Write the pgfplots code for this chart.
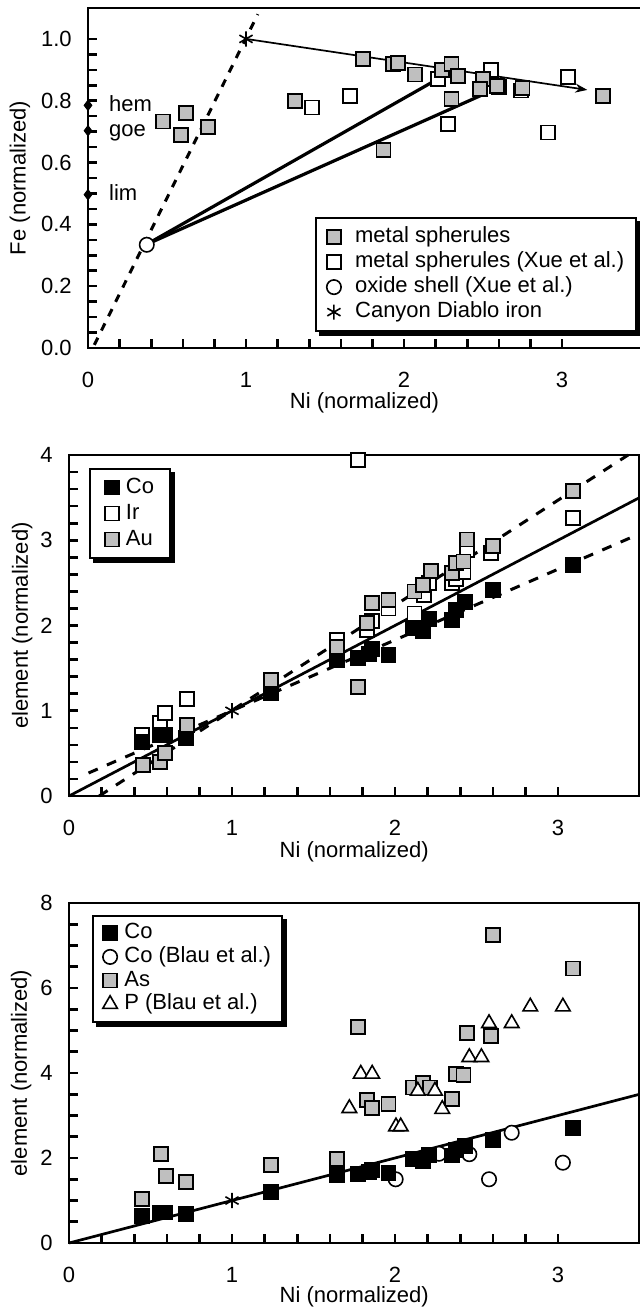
\documentclass[border=0pt]{standalone}
\usepackage{fontspec}
\setmainfont{Liberation Sans}
\usepackage{pgfplots}
\pgfplotsset{compat=1.18}
\usetikzlibrary{arrows.meta}

\newcommand{\lblfont}{\fontsize{11}{13}\selectfont}
% solid shadow along the right and bottom edges of a legend box
\newcommand{\legshadow}[1]{%
  \fill[black] ([yshift=-2pt]#1.north east) rectangle ([xshift=2pt,yshift=-2pt]#1.south east);
  \fill[black] ([xshift=2pt]#1.south west) rectangle ([xshift=2pt,yshift=-2pt]#1.south east);}

\pgfplotsset{
  panel/.style={
    scale only axis, anchor=south west, clip=false,
    axis line style={line width=1.4pt},
    major tick style={draw=black, line width=1.3pt},
    minor tick style={draw=black, line width=1.3pt},
    major tick length=4.3pt, minor tick length=4.3pt,
    tick pos=left, tick align=inside,
    /pgf/number format/assume math mode=true,
    tick label style={font=\lblfont},
    label style={font=\lblfont},
    xticklabel shift=8.3pt, yticklabel shift=4.3pt,
    xmin=0, xmax=3.5, xtick={0,1,2,3}, minor x tick num=4,
    xlabel={Ni (normalized)},
    legend cell align=left,
    legend style={draw=black, line width=1pt, fill=white, font=\lblfont,
      nodes={inner sep=0.5pt, text height=8.2pt, text depth=2.6pt}},
    legend image code/.code={\draw[##1] plot coordinates {(0pt,0pt)};},
  },
  graysq/.style={only marks, mark=square*, mark size=3.5pt,
    mark options={line width=0.9pt, draw=black, fill=black!25}},
  whitesq/.style={only marks, mark=square*, mark size=3.5pt,
    mark options={line width=0.9pt, draw=black, fill=white}},
  blacksq/.style={only marks, mark=square*, mark size=3.5pt,
    mark options={line width=0.9pt, draw=black, fill=black}},
  opencirc/.style={only marks, mark=*, mark size=3.6pt,
    mark options={line width=0.8pt, draw=black, fill=white}},
  opentri/.style={only marks, mark=triangle*, mark size=4.2pt,
    mark options={line width=0.8pt, draw=black, fill=white}},
  cdiron/.style={only marks, mark=asterisk, mark size=3.8pt,
    mark options={line width=0.8pt, draw=black}},
}

% Co concentrations, shared by the lower two panels
\pgfplotstableread{
x y
0.446 0.637
0.558 0.716
0.589 0.716
0.718 0.677
1.237 1.205
1.646 1.595
1.775 1.620
1.840 1.670
1.860 1.720
1.960 1.650
2.110 1.970
2.170 1.930
2.210 2.080
2.350 2.060
2.375 2.180
2.430 2.280
2.600 2.420
3.090 2.710
}\cotable

\begin{document}
\lblfont
\begin{tikzpicture}
\useasboundingbox (0pt,0pt) rectangle (319.5pt,-655pt);

% ---------------- Fe vs Ni ----------------
\begin{axis}[panel, at={(44pt,-174pt)}, width=276.5pt, height=170pt,
  ymin=0, ymax=1.1, ytick={0,0.2,...,1.0}, minor y tick num=3,
  yticklabel style={/pgf/number format/.cd, fixed, fixed zerofill, precision=1},
  ylabel={Fe (normalized)},
  every axis y label/.style={at={(axis description cs:-0.123,0.5)}, rotate=90, anchor=center},
  every axis x label/.style={at={(axis description cs:0.5,-0.162)}, anchor=center},
  legend style={name=legA, at={(0.41,0.385)}, anchor=north west,
    row sep=0.7pt, column sep=6.5pt, inner xsep=5.5pt, inner ysep=3.6pt},
]
\addlegendimage{graysq}\addlegendentry{metal spherules}
\addlegendimage{whitesq}\addlegendentry{metal spherules (Xue et al.)}
\addlegendimage{opencirc}\addlegendentry{oxide shell (Xue et al.)}
\addlegendimage{cdiron}\addlegendentry{Canyon Diablo iron}

% mineral reference values on the Fe axis
\addplot[only marks, mark=diamond*, mark size=2.6pt, black, forget plot]
  coordinates {(0,0.785) (0,0.703) (0,0.496)};
\node[anchor=mid west] at (axis cs:0.085,0.785) {hem};
\node[anchor=mid west] at (axis cs:0.085,0.703) {goe};
\node[anchor=mid west] at (axis cs:0.085,0.496) {lim};

\addplot[dash pattern=on 4pt off 4pt, line width=1.5pt, forget plot]
  coordinates {(0.04,0.01) (1.075,1.08)};

\addplot[whitesq, forget plot] coordinates {
 (1.42,0.778) (1.66,0.815) (2.215,0.869) (2.55,0.900) (2.60,0.844)
 (2.74,0.833) (2.28,0.725) (2.91,0.697) (3.04,0.876)};
\addplot[graysq, forget plot] coordinates {
 (0.474,0.733) (0.621,0.759) (0.588,0.689) (0.759,0.716) (1.31,0.800)
 (1.74,0.935) (1.93,0.919) (1.96,0.921) (2.07,0.885) (2.24,0.900)
 (2.30,0.918) (2.34,0.879) (2.30,0.806) (1.87,0.641) (2.50,0.871)
 (2.48,0.837) (2.59,0.848) (2.75,0.840) (3.26,0.816)};

\addplot[line width=1.6pt, forget plot] coordinates {(0.37,0.335) (2.22,0.872)};
\addplot[line width=1.6pt, forget plot] coordinates {(0.37,0.335) (2.50,0.820)};
\addplot[line width=0.85pt, -{Stealth[length=6pt,width=4.5pt,inset=2pt]}, forget plot]
  coordinates {(1,1) (3.16,0.835)};

\addplot[opencirc, forget plot] coordinates {(0.372,0.334)};
\addplot[cdiron, forget plot] coordinates {(1,1)};
\end{axis}
\legshadow{legA}

% ---------------- Co, Ir, Au vs Ni ----------------
\begin{axis}[panel, at={(34.5pt,-398pt)}, width=285.25pt, height=170.5pt,
  ymin=0, ymax=4, ytick={0,1,2,3,4}, minor y tick num=4,
  ylabel={element (normalized)},
  every axis y label/.style={at={(axis description cs:-0.082,0.5)}, rotate=90, anchor=center},
  every axis x label/.style={at={(axis description cs:0.5,-0.164)}, anchor=center},
  legend style={name=legB, at={(0.035,0.962)}, anchor=north west,
    row sep=1.2pt, column sep=3pt, inner xsep=7.5pt, inner ysep=3.4pt},
]
\addlegendimage{blacksq}\addlegendentry{Co}
\addlegendimage{whitesq}\addlegendentry{Ir}
\addlegendimage{graysq}\addlegendentry{Au}

\addplot[whitesq, forget plot] coordinates {
 (0.446,0.72) (0.558,0.853) (0.589,0.97) (0.722,1.134) (1.646,1.83)
 (1.775,3.94) (1.83,1.95) (1.86,2.05) (1.96,2.20) (2.12,2.14)
 (2.18,2.36) (2.21,2.50) (2.35,2.50) (2.375,2.55) (2.42,2.63)
 (2.44,2.89) (2.59,2.85) (3.09,3.26)};
\addplot[blacksq, forget plot] table {\cotable};
\addplot[graysq, forget plot] coordinates {
 (0.452,0.364) (0.558,0.402) (0.589,0.50) (0.722,0.833) (1.237,1.36)
 (1.646,1.75) (1.775,1.28) (1.83,2.03) (1.86,2.26) (1.96,2.30)
 (2.12,2.40) (2.17,2.475) (2.22,2.64) (2.35,2.62) (2.375,2.73)
 (2.42,2.75) (2.44,3.01) (2.60,2.93) (3.09,3.58)};

\addplot[line width=1.35pt, forget plot] coordinates {(0,0) (3.5,3.5)};
\addplot[dash pattern=on 5pt off 5pt, line width=1.5pt, forget plot]
  coordinates {(0.185,0) (3.43,4)};
\addplot[dash pattern=on 5pt off 5pt, line width=1.5pt, forget plot]
  coordinates {(0.12,0.27) (3.5,3.075)};
\addplot[cdiron, forget plot] coordinates {(1,1)};
\end{axis}
\legshadow{legB}

% ---------------- Co, As, P vs Ni ----------------
\begin{axis}[panel, at={(34.5pt,-621.5pt)}, width=285.25pt, height=170pt,
  ymin=0, ymax=8, ytick={0,2,4,6,8}, minor y tick num=3,
  ylabel={element (normalized)},
  every axis y label/.style={at={(axis description cs:-0.084,0.5)}, rotate=90, anchor=center},
  every axis x label/.style={at={(axis description cs:0.5,-0.157)}, anchor=center},
  legend style={name=legC, at={(0.040,0.965)}, anchor=north west,
    row sep=0pt, column sep=3pt, inner xsep=5pt, inner ysep=2.8pt},
]
\addlegendimage{blacksq}\addlegendentry{Co}
\addlegendimage{opencirc}\addlegendentry{Co (Blau et al.)}
\addlegendimage{graysq}\addlegendentry{As}
\addlegendimage{opentri}\addlegendentry{P (Blau et al.)}

\addplot[opencirc, forget plot] coordinates {
 (2.004,1.50) (2.27,2.10) (2.456,2.09) (2.577,1.50) (2.716,2.595) (3.03,1.89)};
\addplot[blacksq, forget plot] table {\cotable};
\addplot[graysq, forget plot] coordinates {
 (0.446,1.035) (0.562,2.09) (0.595,1.58) (0.718,1.44) (1.237,1.835)
 (1.646,1.97) (1.775,5.09) (1.83,3.36) (1.86,3.17) (1.96,3.27)
 (2.11,3.66) (2.17,3.76) (2.215,3.66) (2.35,3.38) (2.375,3.98)
 (2.42,3.95) (2.44,4.95) (2.59,4.87) (2.60,7.25) (3.09,6.46)};
\addplot[opentri, forget plot] coordinates {
 (1.72,3.17) (1.79,3.98) (1.86,3.98) (2.006,2.74) (2.035,2.74)
 (2.14,3.58) (2.245,3.58) (2.29,3.15) (2.456,4.37) (2.53,4.37)
 (2.577,5.17) (2.716,5.17) (2.83,5.56) (3.03,5.56)};

\addplot[line width=1.35pt, forget plot] coordinates {(0,0) (3.5,3.5)};
\addplot[cdiron, forget plot] coordinates {(1,1)};
\end{axis}
\legshadow{legC}
\end{tikzpicture}
\end{document}
